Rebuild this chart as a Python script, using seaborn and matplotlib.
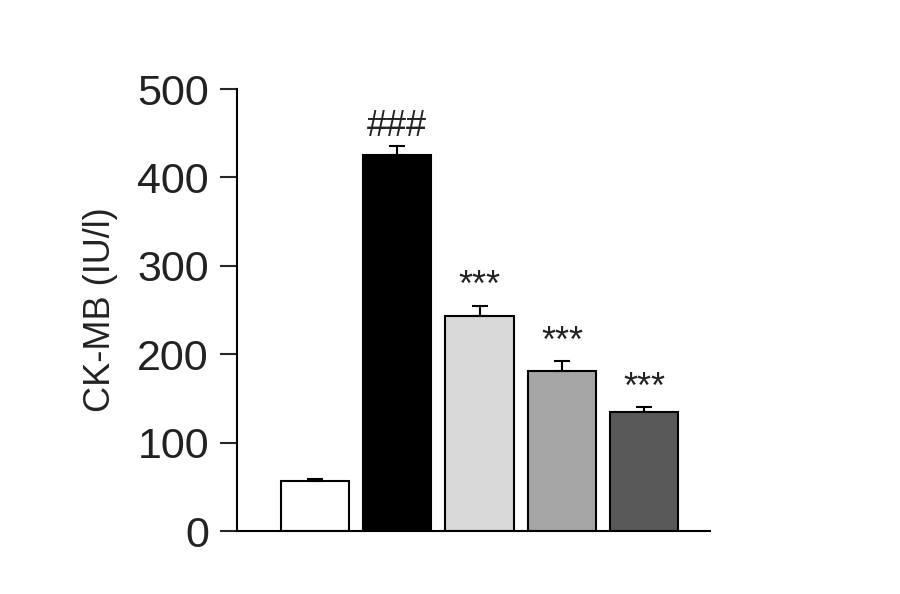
import matplotlib
matplotlib.use("Agg")
import matplotlib.pyplot as plt
import seaborn as sns
import pandas as pd

groups = ["Control", "Model", "Low", "Mid", "High"]
values = [57, 426, 243, 181, 135]
errors = [2, 10, 12, 11, 5]
labels = ["", "###", "***", "***", "***"]
colors = ["#ffffff", "#000000", "#d9d9d9", "#a6a6a6", "#595959"]

sns.set_style("white")
plt.rcParams['font.family'] = ['Liberation Sans', 'DejaVu Sans']
df = pd.DataFrame({"g": groups, "v": values})

fig = plt.figure(figsize=(9, 5.94), dpi=100)
ax = fig.add_axes([0.263, 0.106, 0.526, 0.744])
sns.barplot(data=df, x="g", y="v", hue="g", palette=colors, legend=False,
            edgecolor="black", linewidth=1.5, width=0.83, ax=ax, errorbar=None)
ax.errorbar(range(len(values)), values, yerr=[[0]*5, errors], fmt="none",
            ecolor="black", capsize=6, elinewidth=1.5, capthick=1.5)
for i, (v, e, t) in enumerate(zip(values, errors, labels)):
    if t:
        ax.text(i, v + e + 2, t, ha="center", va="bottom", fontsize=26, color="#222222")
ax.set_ylim(0, 500)
ax.set_xlim(-0.95, 4.8)
ax.set_yticks([0, 100, 200, 300, 400, 500])
ax.set_xticks([])
ax.set_xlabel("")
ax.set_ylabel("CK-MB (IU/l)", fontsize=26, color="#222222", labelpad=14)
ax.tick_params(axis="y", labelsize=31, labelcolor="#222222", direction="out",
               length=12, width=1.5, left=True, pad=8)
for s in ["top", "right"]:
    ax.spines[s].set_visible(False)
for s in ["left", "bottom"]:
    ax.spines[s].set_color("black")
    ax.spines[s].set_linewidth(1.5)
fig.savefig("out.png", dpi=100)
